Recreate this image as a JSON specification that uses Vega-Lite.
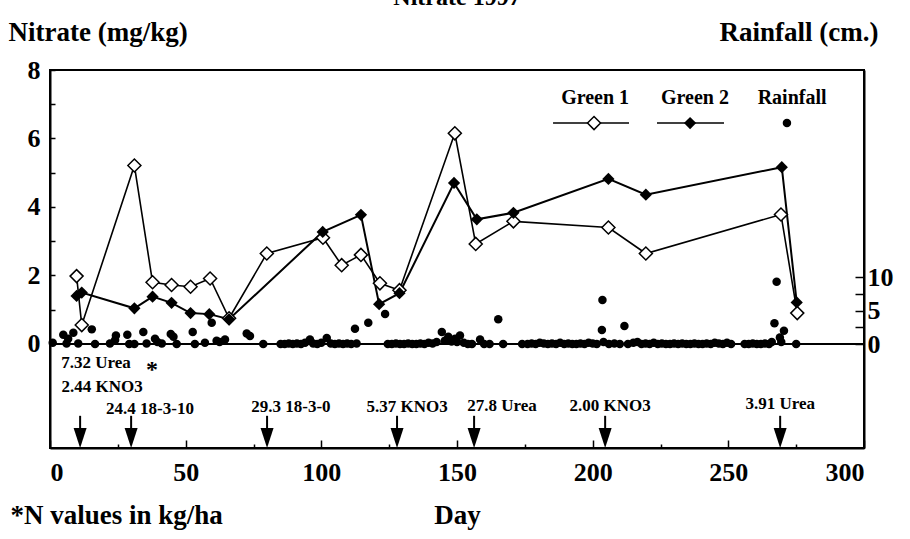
{
  "$schema": "https://vega.github.io/schema/vega-lite/v6.json",
  "width": 814,
  "height": 378,
  "autosize": {"type": "none"},
  "padding": {"left": 50, "top": 70, "right": 46, "bottom": 91},
  "background": "white",
  "config": {
    "font": "Liberation Serif",
    "view": {"stroke": "black", "strokeWidth": 2},
    "axis": {
      "labelFont": "Liberation Serif", "labelFontWeight": "bold", "labelFontSize": 26, "labelColor": "black",
      "titleFont": "Liberation Serif", "titleFontWeight": "bold", "titleFontSize": 27, "titleColor": "black",
      "domainColor": "black", "domainWidth": 2, "tickColor": "black", "tickWidth": 1.5, "grid": false
    },
    "text": {"font": "Liberation Serif", "fontWeight": "bold", "color": "black"}
  },
  "title": {"text": "Nitrate 1997", "font": "Liberation Serif", "fontSize": 24, "fontWeight": "bold", "color": "black", "anchor": "middle", "frame": "group", "offset": 8},
  "datasets": {
    "nitrate": [
      {"series": "Green 1", "day": 9.8, "val": 1.98},
      {"series": "Green 1", "day": 11.7, "val": 0.55},
      {"series": "Green 1", "day": 31.1, "val": 5.21},
      {"series": "Green 1", "day": 37.8, "val": 1.8},
      {"series": "Green 1", "day": 44.8, "val": 1.72},
      {"series": "Green 1", "day": 51.8, "val": 1.67},
      {"series": "Green 1", "day": 59, "val": 1.91},
      {"series": "Green 1", "day": 66, "val": 0.75},
      {"series": "Green 1", "day": 79.9, "val": 2.64},
      {"series": "Green 1", "day": 100.6, "val": 3.1},
      {"series": "Green 1", "day": 107.5, "val": 2.3},
      {"series": "Green 1", "day": 114.6, "val": 2.6},
      {"series": "Green 1", "day": 121.6, "val": 1.77},
      {"series": "Green 1", "day": 128.8, "val": 1.57},
      {"series": "Green 1", "day": 149.2, "val": 6.15},
      {"series": "Green 1", "day": 156.9, "val": 2.92},
      {"series": "Green 1", "day": 170.8, "val": 3.58},
      {"series": "Green 1", "day": 205.8, "val": 3.4},
      {"series": "Green 1", "day": 219.6, "val": 2.64},
      {"series": "Green 1", "day": 269.4, "val": 3.78},
      {"series": "Green 1", "day": 275.4, "val": 0.9},
      {"series": "Green 2", "day": 9.8, "val": 1.4},
      {"series": "Green 2", "day": 11.7, "val": 1.5},
      {"series": "Green 2", "day": 31.1, "val": 1.04},
      {"series": "Green 2", "day": 37.8, "val": 1.38},
      {"series": "Green 2", "day": 44.8, "val": 1.2},
      {"series": "Green 2", "day": 51.8, "val": 0.9},
      {"series": "Green 2", "day": 58.7, "val": 0.87},
      {"series": "Green 2", "day": 66, "val": 0.72},
      {"series": "Green 2", "day": 100.5, "val": 3.27},
      {"series": "Green 2", "day": 114.6, "val": 3.77},
      {"series": "Green 2", "day": 121.3, "val": 1.16},
      {"series": "Green 2", "day": 128.8, "val": 1.48},
      {"series": "Green 2", "day": 148.9, "val": 4.7},
      {"series": "Green 2", "day": 157.3, "val": 3.64},
      {"series": "Green 2", "day": 170.8, "val": 3.83},
      {"series": "Green 2", "day": 205.8, "val": 4.82},
      {"series": "Green 2", "day": 219.6, "val": 4.36},
      {"series": "Green 2", "day": 269.7, "val": 5.16},
      {"series": "Green 2", "day": 275.2, "val": 1.21}
    ],
    "rain": [
      {"day": 1, "rain": 0.2}, {"day": 4.9, "rain": 1.4}, {"day": 6.1, "rain": 0.1}, {"day": 6.7, "rain": 0.8},
      {"day": 8.6, "rain": 1.7}, {"day": 10.4, "rain": 0.1}, {"day": 15.4, "rain": 2.2}, {"day": 16.6, "rain": 0},
      {"day": 22.1, "rain": 0.1}, {"day": 24, "rain": 0.6}, {"day": 24.3, "rain": 1.3}, {"day": 28.5, "rain": 1.4},
      {"day": 29.2, "rain": 0}, {"day": 31.1, "rain": 0}, {"day": 34.4, "rain": 1.8}, {"day": 35.6, "rain": 0.1},
      {"day": 38.7, "rain": 0.8}, {"day": 39.6, "rain": 0.3}, {"day": 41.2, "rain": 0.1}, {"day": 44.5, "rain": 1.5},
      {"day": 45.5, "rain": 1.1}, {"day": 46.7, "rain": 0}, {"day": 52.6, "rain": 1.8}, {"day": 53.4, "rain": 0},
      {"day": 57.1, "rain": 0.2}, {"day": 59.6, "rain": 3.2}, {"day": 61.4, "rain": 0.5}, {"day": 62.5, "rain": 0.3},
      {"day": 64.5, "rain": 0.7}, {"day": 72.5, "rain": 1.6}, {"day": 73.7, "rain": 1.2}, {"day": 78.6, "rain": 0},
      {"day": 85, "rain": 0}, {"day": 86.5, "rain": 0}, {"day": 88, "rain": 0.1}, {"day": 89.5, "rain": 0},
      {"day": 91, "rain": 0.1}, {"day": 92.5, "rain": 0}, {"day": 94, "rain": 0.2}, {"day": 95.8, "rain": 0.7},
      {"day": 97, "rain": 0.1}, {"day": 98.5, "rain": 0}, {"day": 100, "rain": 0.2}, {"day": 102, "rain": 0.9},
      {"day": 103.5, "rain": 0.1}, {"day": 105, "rain": 0}, {"day": 106.5, "rain": 0.1}, {"day": 108, "rain": 0},
      {"day": 109.5, "rain": 0.1}, {"day": 111, "rain": 0}, {"day": 112.4, "rain": 2.3}, {"day": 113, "rain": 0.1},
      {"day": 117.3, "rain": 3.2}, {"day": 123.5, "rain": 4.5}, {"day": 124.5, "rain": 0}, {"day": 126, "rain": 0},
      {"day": 127.5, "rain": 0.1}, {"day": 129, "rain": 0}, {"day": 130.5, "rain": 0}, {"day": 132, "rain": 0.1},
      {"day": 133.5, "rain": 0}, {"day": 135, "rain": 0}, {"day": 136.5, "rain": 0.1}, {"day": 138, "rain": 0},
      {"day": 139.5, "rain": 0.2}, {"day": 141, "rain": 0.1}, {"day": 142.5, "rain": 0.3}, {"day": 144.4, "rain": 1.8},
      {"day": 145.5, "rain": 0.5}, {"day": 146.8, "rain": 1.1}, {"day": 148, "rain": 0.4}, {"day": 149.3, "rain": 0.8},
      {"day": 150, "rain": 0.3}, {"day": 151.1, "rain": 1.3}, {"day": 152.5, "rain": 0.2}, {"day": 154, "rain": 0},
      {"day": 155.5, "rain": 0}, {"day": 158.5, "rain": 0.7}, {"day": 160, "rain": 0}, {"day": 162, "rain": 0},
      {"day": 165.2, "rain": 3.7}, {"day": 167, "rain": 0}, {"day": 174, "rain": 0}, {"day": 176, "rain": 0},
      {"day": 177.5, "rain": 0.1}, {"day": 179, "rain": 0}, {"day": 180.5, "rain": 0.2}, {"day": 182, "rain": 0.1},
      {"day": 183.5, "rain": 0}, {"day": 185, "rain": 0.1}, {"day": 186.5, "rain": 0}, {"day": 188, "rain": 0.2},
      {"day": 189.5, "rain": 0}, {"day": 191, "rain": 0.1}, {"day": 192.5, "rain": 0}, {"day": 194, "rain": 0},
      {"day": 195.5, "rain": 0.1}, {"day": 197, "rain": 0}, {"day": 198.5, "rain": 0.2}, {"day": 200, "rain": 0.1},
      {"day": 201.5, "rain": 0}, {"day": 203.4, "rain": 2.1}, {"day": 203.6, "rain": 6.6}, {"day": 204, "rain": 0.3},
      {"day": 206, "rain": 0}, {"day": 208, "rain": 0.1}, {"day": 210, "rain": 0}, {"day": 211.7, "rain": 2.7},
      {"day": 213, "rain": 0}, {"day": 215, "rain": 0.2}, {"day": 216.5, "rain": 0.3}, {"day": 218, "rain": 0},
      {"day": 219.5, "rain": 0.1}, {"day": 221, "rain": 0}, {"day": 222.5, "rain": 0.2}, {"day": 224, "rain": 0},
      {"day": 225.5, "rain": 0.1}, {"day": 227, "rain": 0}, {"day": 228.5, "rain": 0}, {"day": 230, "rain": 0.1},
      {"day": 231.5, "rain": 0}, {"day": 233, "rain": 0.1}, {"day": 234.5, "rain": 0}, {"day": 236, "rain": 0},
      {"day": 237.5, "rain": 0.1}, {"day": 239, "rain": 0}, {"day": 240.5, "rain": 0}, {"day": 242, "rain": 0.1},
      {"day": 243.5, "rain": 0}, {"day": 245, "rain": 0.2}, {"day": 246.5, "rain": 0.1}, {"day": 248, "rain": 0},
      {"day": 249.5, "rain": 0.2}, {"day": 251, "rain": 0}, {"day": 256, "rain": 0}, {"day": 257.5, "rain": 0},
      {"day": 259, "rain": 0.1}, {"day": 260.5, "rain": 0}, {"day": 262, "rain": 0}, {"day": 263.5, "rain": 0.1},
      {"day": 265, "rain": 0}, {"day": 266, "rain": 0.3}, {"day": 267, "rain": 3.1}, {"day": 267.8, "rain": 9.3},
      {"day": 269, "rain": 1.0}, {"day": 269.5, "rain": 0.3}, {"day": 270.5, "rain": 2.0}, {"day": 275, "rain": 0}
    ],
    "arrows": [
      {"day": 11.1}, {"day": 29.9}, {"day": 80.0}, {"day": 127.9}, {"day": 156.3}, {"day": 204.6}, {"day": 269.1}
    ],
    "notes": [
      {"text": "7.32 Urea", "day": 16.96, "val": -0.55},
      {"text": "2.44 KNO3", "day": 19.17, "val": -1.26},
      {"text": "24.4 18-3-10", "day": 36.86, "val": -1.9},
      {"text": "29.3 18-3-0", "day": 88.8, "val": -1.84},
      {"text": "5.37 KNO3", "day": 131.6, "val": -1.84},
      {"text": "27.8 Urea", "day": 166.6, "val": -1.81},
      {"text": "2.00 KNO3", "day": 206.4, "val": -1.81},
      {"text": "3.91 Urea", "day": 269.1, "val": -1.75}
    ],
    "legendText": [
      {"text": "Green 1", "day": 200.9, "val": 7.18},
      {"text": "Green 2", "day": 237.7, "val": 7.18},
      {"text": "Rainfall", "day": 273.5, "val": 7.18}
    ],
    "legendLine": [
      {"series": "Green 1", "day": 185.4, "val": 6.45},
      {"series": "Green 1", "day": 213.4, "val": 6.45},
      {"series": "Green 2", "day": 223.7, "val": 6.45},
      {"series": "Green 2", "day": 248.4, "val": 6.45}
    ],
    "legendSym": [
      {"sym": "Green 1", "day": 200.5, "val": 6.45},
      {"sym": "Green 2", "day": 235.9, "val": 6.45},
      {"sym": "Rainfall", "day": 271.6, "val": 6.45}
    ]
  },
  "layer": [
    {
      "data": {"name": "rain"},
      "mark": {"type": "circle", "size": 72, "color": "black", "opacity": 1},
      "encoding": {
        "x": {
          "field": "day", "type": "quantitative",
          "scale": {"domain": [0, 300], "nice": false, "zero": false},
          "axis": {
            "orient": "bottom", "values": [25, 75, 125, 175, 225, 275], "tickSize": -4, "labels": false, "domain": false,
            "title": "*N values in kg/ha", "titleX": -40, "titleY": 67, "titleAlign": "left", "titleBaseline": "middle"
          }
        },
        "y": {
          "field": "rain", "type": "quantitative",
          "scale": {"domain": [-15.5, 40.9], "nice": false, "zero": false},
          "axis": {
            "orient": "right", "values": [0, 2.5, 5, 7.5, 10], "tickSize": -9,
            "labelExpr": "datum.value % 5 == 0 ? format(datum.value, 'd') : ''",
            "labelPadding": 12, "labelBaseline": "middle",
            "title": "Rainfall (cm.)", "titleAngle": 0, "titleX": 14, "titleY": -38, "titleAlign": "right", "titleBaseline": "middle"
          }
        }
      }
    },
    {
      "encoding": {
        "x": {
          "field": "day", "type": "quantitative",
          "scale": {"domain": [0, 300], "nice": false, "zero": false},
          "axis": {
            "orient": "bottom", "values": [0, 50, 100, 150, 200, 250, 300], "tickSize": -8, "labelPadding": 19,
            "title": "Day", "titleX": 407, "titleY": 67, "titleBaseline": "middle"
          }
        },
        "y": {
          "field": "val", "type": "quantitative",
          "scale": {"domain": [-3.04, 8], "nice": false, "zero": false},
          "axis": {
            "orient": "left", "values": [0, 1, 2, 3, 4, 5, 6, 7, 8], "tickSize": -5,
            "labelExpr": "datum.value % 2 == 0 ? datum.label : ''",
            "labelPadding": 15, "labelBaseline": "middle",
            "title": "Nitrate (mg/kg)", "titleAngle": 0, "titleX": -42, "titleY": -38, "titleAlign": "left", "titleBaseline": "middle"
          }
        }
      },
      "layer": [
        {
          "data": {"values": [{"day": 0, "val": 0}, {"day": 300, "val": 0}]},
          "mark": {"type": "line", "color": "black", "strokeWidth": 2}
        },
        {
          "data": {"name": "nitrate"},
          "transform": [{"filter": "datum.series == 'Green 1'"}],
          "mark": {"type": "line", "color": "black", "strokeWidth": 1.6}
        },
        {
          "data": {"name": "nitrate"},
          "transform": [{"filter": "datum.series == 'Green 2'"}],
          "mark": {"type": "line", "color": "black", "strokeWidth": 2}
        },
        {
          "data": {"name": "nitrate"},
          "transform": [{"filter": "datum.series == 'Green 1'"}],
          "mark": {"type": "point", "shape": "diamond", "size": 170, "filled": true, "fill": "white", "stroke": "black", "strokeWidth": 1.5, "opacity": 1}
        },
        {
          "data": {"name": "nitrate"},
          "transform": [{"filter": "datum.series == 'Green 2'"}],
          "mark": {"type": "point", "shape": "diamond", "size": 150, "filled": true, "color": "black", "opacity": 1}
        },
        {
          "data": {"name": "notes"},
          "mark": {"type": "text", "fontSize": 17, "fontWeight": "bold", "align": "center", "baseline": "middle"},
          "encoding": {"text": {"field": "text"}}
        },
        {
          "data": {"values": [{"text": "*", "day": 37.6, "val": -0.75}]},
          "mark": {"type": "text", "fontSize": 24, "fontWeight": "bold", "align": "center", "baseline": "middle"},
          "encoding": {"text": {"field": "text"}}
        },
        {
          "data": {"name": "legendText"},
          "mark": {"type": "text", "fontSize": 20, "fontWeight": "bold", "align": "center", "baseline": "middle"},
          "encoding": {"text": {"field": "text"}}
        },
        {
          "data": {"name": "legendLine"},
          "mark": {"type": "line", "color": "black", "strokeWidth": 1.6},
          "encoding": {"detail": {"field": "series"}}
        },
        {
          "data": {"name": "legendSym"},
          "transform": [{"filter": "datum.sym == 'Green 1'"}],
          "mark": {"type": "point", "shape": "diamond", "size": 170, "filled": true, "fill": "white", "stroke": "black", "strokeWidth": 1.5, "opacity": 1}
        },
        {
          "data": {"name": "legendSym"},
          "transform": [{"filter": "datum.sym == 'Green 2'"}],
          "mark": {"type": "point", "shape": "diamond", "size": 150, "filled": true, "color": "black", "opacity": 1}
        },
        {
          "data": {"name": "legendSym"},
          "transform": [{"filter": "datum.sym == 'Rainfall'"}],
          "mark": {"type": "circle", "size": 72, "color": "black", "opacity": 1}
        }
      ]
    },
    {
      "data": {"name": "arrows"},
      "encoding": {
        "x": {
          "field": "day", "type": "quantitative",
          "scale": {"domain": [0, 300], "nice": false, "zero": false},
          "axis": null
        }
      },
      "layer": [
        {
          "mark": {"type": "rule", "color": "black", "strokeWidth": 2},
          "encoding": {
            "y": {"datum": -2.1, "type": "quantitative", "scale": {"domain": [-3.04, 8], "nice": false, "zero": false}, "axis": null},
            "y2": {"datum": -2.5}
          }
        },
        {
          "mark": {"type": "point", "shape": "M-0.65,-1L0.65,-1L0,1Z", "size": 400, "filled": true, "color": "black", "opacity": 1},
          "encoding": {
            "y": {"datum": -2.75, "type": "quantitative", "scale": {"domain": [-3.04, 8], "nice": false, "zero": false}, "axis": null}
          }
        }
      ]
    }
  ],
  "resolve": {"scale": {"x": "independent", "y": "independent"}}
}
